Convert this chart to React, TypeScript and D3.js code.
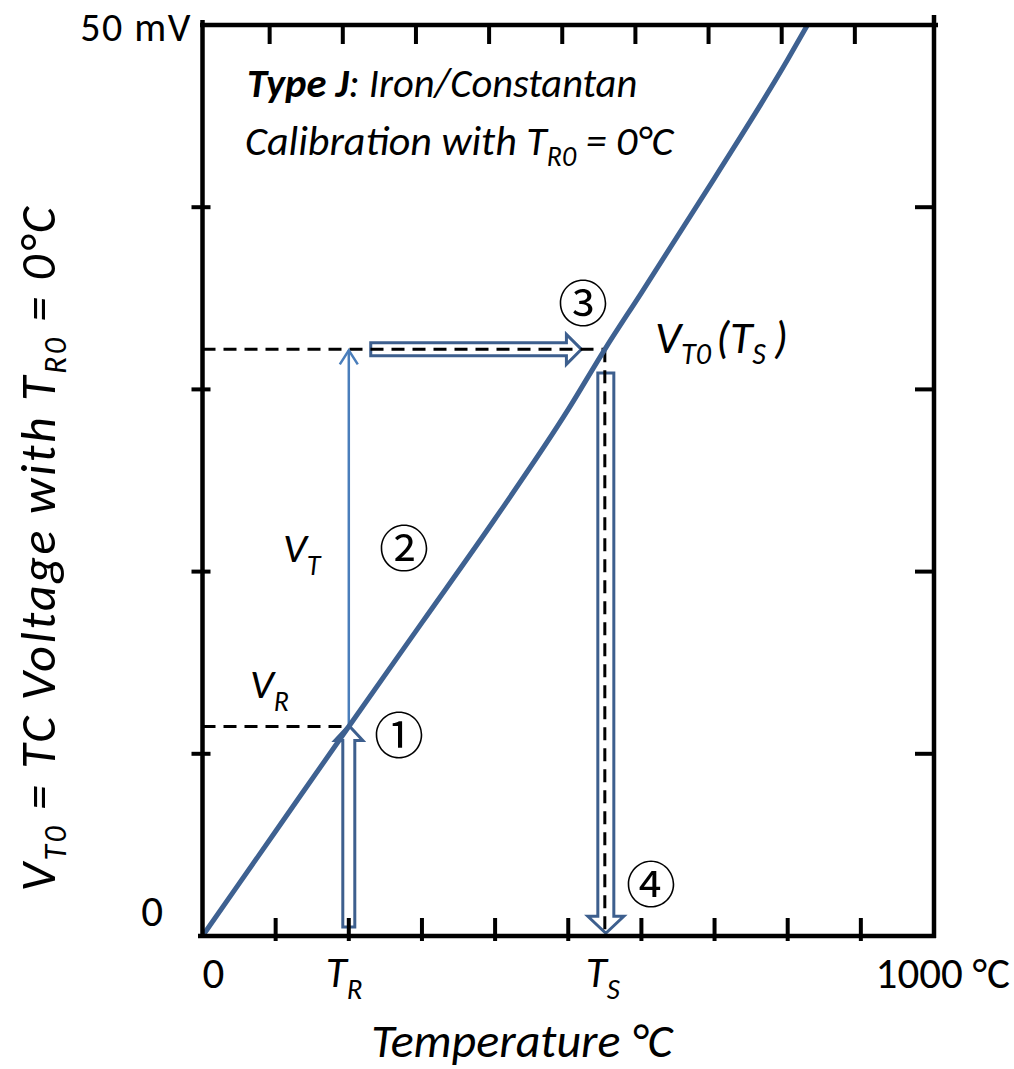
import React from "react";
import * as d3 from "d3";

// Type J thermocouple reading
const tempC = [0, 100, 200, 300, 400, 500, 550, 600, 700, 800, 827];
const voltMv = [0, 5.75, 11.5, 17.2, 22.9, 28.9, 32.2, 35.3, 41.6, 48.1, 50];

const xTicks = [100, 200, 300, 400, 500, 600, 700, 800, 900];
const yTicks = [10, 20, 30, 40];

// reference / sensing points
const tR = 200;
const tS = 550;
const vR = 11.5;
const vS = 32.2;

const FONT = "Carlito, Calibri, Lato, sans-serif";
const CURVE = "#3E6191";
const ARROW = "#3D5F8E";

const width = 1014;
const height = 1069;

const x = d3.scaleLinear().domain([0, 1000]).range([202.5, 934]);
const y = d3.scaleLinear().domain([0, 50]).range([936, 25]);

function blockArrow(x1: number, y1: number, x2: number, y2: number, w: number, hw: number, hl: number) {
	const len = Math.hypot(x2 - x1, y2 - y1);
	const ux = (x2 - x1) / len, uy = (y2 - y1) / len;
	const nx = -uy, ny = ux;
	const bx = x2 - ux * hl, by = y2 - uy * hl;
	const p = d3.path();
	p.moveTo(x1 + nx * w / 2, y1 + ny * w / 2);
	p.lineTo(bx + nx * w / 2, by + ny * w / 2);
	p.lineTo(bx + nx * hw / 2, by + ny * hw / 2);
	p.lineTo(x2, y2);
	p.lineTo(bx - nx * hw / 2, by - ny * hw / 2);
	p.lineTo(bx - nx * w / 2, by - ny * w / 2);
	p.lineTo(x1 - nx * w / 2, y1 - ny * w / 2);
	p.closePath();
	return p.toString();
}

const Circled = ({ cx, cy, ch }: { cx: number; cy: number; ch: string }) => (
	<text x={cx} y={cy} fontFamily="'Noto Sans CJK JP', 'DejaVu Sans'" fontSize={50}
		textAnchor="middle" dominantBaseline="central" fill="#000">{ch}</text>
);

export default function App() {
	const line = d3.line<number>()
		.x((d, i) => x(tempC[i]))
		.y(d => y(d))
		.curve(d3.curveMonotoneX);

	const dash = "13,8";

	return (
		<svg width={width} height={height} style={{ position: "absolute", left: 0, top: 0, background: "#fff" }}
			fontFamily={FONT}>
			{/* block arrows */}
			<path d={blockArrow(x(tR), y(0.5), x(tR), y(vR) - 1, 12, 28, 15)} fill="#fff" stroke={ARROW} strokeWidth={3} />
			<path d={blockArrow(x(230), y(vS), x(518), y(vS), 13, 30, 15)} fill="#fff" stroke={ARROW} strokeWidth={3} />
			<path d={blockArrow(x(tS) + 1, y(30.9), x(tS) + 1, y(0.15), 16, 36, 17)} fill="#fff" stroke={ARROW} strokeWidth={3} />

			{/* dashed guides */}
			<line x1={x(0)} x2={x(tR)} y1={y(vR)} y2={y(vR)} stroke="#000" strokeWidth={3} strokeDasharray={dash} />
			<line x1={x(0)} x2={x(tS)} y1={y(vS)} y2={y(vS)} stroke="#000" strokeWidth={3} strokeDasharray={dash} />
			<line x1={x(tS)} x2={x(tS)} y1={y(vS)} y2={y(0)} stroke="#000" strokeWidth={3} strokeDasharray={dash} />

			{/* V_T thin arrow */}
			<line x1={x(tR)} x2={x(tR)} y1={y(vR)} y2={y(vS) + 1} stroke="#4A7EBB" strokeWidth={2.5} />
			<polyline points={`${x(tR) - 9},${y(vS) + 15} ${x(tR)},${y(vS) + 1} ${x(tR) + 9},${y(vS) + 15}`}
				fill="none" stroke="#4A7EBB" strokeWidth={2.5} />

			{/* thermocouple curve */}
			<path d={line(voltMv) || ""} fill="none" stroke={CURVE} strokeWidth={5} />

			{/* frame */}
			<g stroke="#000" strokeWidth={4.5}>
				<line x1={200} x2={938} y1={y(50)} y2={y(50)} />
				<line x1={198} x2={936} y1={y(0)} y2={y(0)} />
				<line x1={x(0)} x2={x(0)} y1={20} y2={938} />
				<line x1={x(1000)} x2={x(1000)} y1={15} y2={938} />
			</g>
			<g stroke="#000" strokeWidth={4}>
				{xTicks.map(t => (
					<g key={t}>
						<line x1={x(t)} x2={x(t)} y1={y(0) - 18} y2={y(0) + 5} />
						<line x1={x(t) - 6} x2={x(t) - 6} y1={y(50)} y2={y(50) + 19} />
					</g>
				))}
				{yTicks.map(v => (
					<g key={v}>
						<line x1={x(0) - 11} x2={x(0) + 8} y1={y(v)} y2={y(v)} />
						<line x1={x(1000) - 19} x2={x(1000)} y1={y(v)} y2={y(v)} />
					</g>
				))}
			</g>

			{/* tick labels */}
			<g fontSize={43} fill="#000">
				<text x={192} y={41} fontSize={40} textAnchor="end" letterSpacing={1.5}>50 mV</text>
				<text x={163} y={926} textAnchor="end">0</text>
				<text x={x(0)} y={988}>0</text>
				<text x={1010} y={988} textAnchor="end">1000 °C</text>
				<text x={x(tR) - 23} y={987} fontStyle="italic">T<tspan dy={12} fontSize={29}>R</tspan></text>
				<text x={x(tS) - 19} y={987} fontStyle="italic">T<tspan dy={12} fontSize={29}>S</tspan></text>
			</g>

			{/* axis titles */}
			<text x={522} y={1057} textAnchor="middle" fontSize={48} fontStyle="italic">Temperature °C</text>
			<text transform="translate(55,548) rotate(-90)" textAnchor="middle" fontSize={50} fontStyle="italic" letterSpacing={2.5}>
				V<tspan dy={11} fontSize={32}>T0</tspan><tspan dy={-11}> = TC Voltage  with T</tspan>
				<tspan dy={11} fontSize={32}>R0</tspan><tspan dy={-11}> = 0°C</tspan>
			</text>

			{/* annotations */}
			<g fontStyle="italic" fill="#000">
				<text x={247} y={97} fontSize={40.5}><tspan fontWeight="bold">Type J</tspan>: Iron/Constantan</text>
				<text x={245} y={155} fontSize={42}>Calibration with T<tspan dy={11} fontSize={28}>R0</tspan><tspan dy={-11}> = 0°C</tspan></text>
				<text x={655} y={353} fontSize={46}>V<tspan dy={11} fontSize={30}>T0</tspan><tspan dy={-11} dx={5}>(T</tspan><tspan dy={11} fontSize={30}>S</tspan><tspan dy={-11} dx={8}>)</tspan></text>
				<text x={283} y={562} fontSize={42}>V<tspan dy={13} fontSize={28}>T</tspan></text>
				<text x={250} y={698} fontSize={42}>V<tspan dy={13} fontSize={28}>R</tspan></text>
			</g>
			<Circled cx={399} cy={732} ch="①" />
			<Circled cx={404} cy={545} ch="②" />
			<Circled cx={583} cy={300} ch="③" />
			<Circled cx={651} cy={881} ch="④" />
		</svg>
	);
}
